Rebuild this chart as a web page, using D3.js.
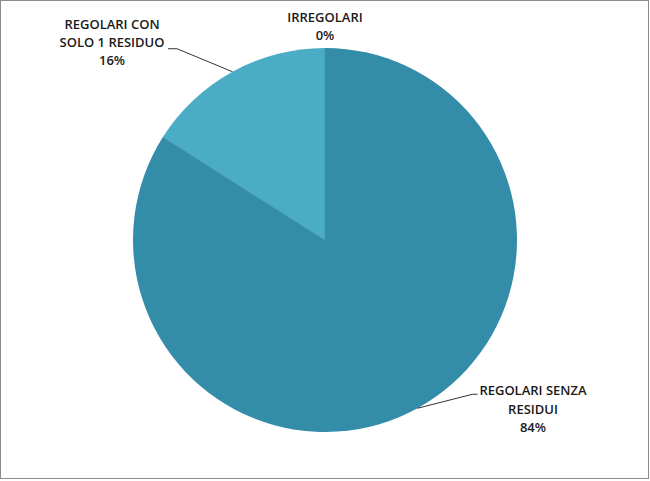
<!DOCTYPE html>
<html><head><meta charset="utf-8">
<script src="https://cdn.jsdelivr.net/npm/d3@7"></script>
<style>body{margin:0;background:#fff}svg{display:block}</style>
</head><body>
<script>
const categories = ["REGOLARI SENZA RESIDUI", "REGOLARI CON SOLO 1 RESIDUO", "IRREGOLARI"];
const values = [84, 16, 0];
const labelLines = [["REGOLARI SENZA", "RESIDUI"], ["REGOLARI CON", "SOLO 1 RESIDUO"], ["IRREGOLARI"]];
const colors = ["#338DA9", "#4BACC6", "#2E7F99"];

const W = 650, H = 481;
const svg = d3.select("body").append("svg").attr("width", W).attr("height", H);
svg.append("rect").attr("x", 0.5).attr("y", 0.5).attr("width", W - 2).attr("height", H - 3)
  .attr("fill", "#fff").attr("stroke", "#8c8c8c").attr("stroke-width", 1);

const cx = 325, cy = 240, R = 192;
const g = svg.append("g").attr("transform", `translate(${cx},${cy})`);
const pie = d3.pie().sort(null).value(d => d);
const arcs = pie(values);
const arc = d3.arc().innerRadius(0).outerRadius(R);

g.selectAll("path").data(arcs).join("path")
  .attr("d", arc).attr("fill", (d, i) => colors[i])
  .attr("stroke", "none");
g.selectAll("line.edge").data(arcs.filter(d => d.value > 0)).join("line")
  .attr("class", "edge").attr("x1", 0).attr("y1", 0)
  .attr("x2", d => R * Math.sin(d.startAngle)).attr("y2", d => -R * Math.cos(d.startAngle))
  .attr("stroke", "#3c8fa8").attr("stroke-width", 1).attr("opacity", 0.6);

const total = d3.sum(values);
const pct = v => Math.round(v / total * 100) + "%";

// label layout relative to the slice mid-angle point on the rim
const labelPos = [
  {dx: 115.5, dy: -13, ex: 55, ey: -14, elbow: 5},
  {dx: -120.5, dy: -43, ex: -55.5, ey: -23, elbow: -9},
  {dx: 0, dy: -26, ex: 0, ey: 0, elbow: 0}
];
const fontFam = "'Open Sans', 'Noto Sans', sans-serif";
arcs.forEach((d, i) => {
  const mid = (d.startAngle + d.endAngle) / 2;
  const px = R * Math.sin(mid), py = -R * Math.cos(mid);
  const lp = labelPos[i];
  const tx = px + lp.dx, ty = py + lp.dy;
  if (d.value > 0) {
    const ex = px + lp.ex, ey = py + lp.ey;
    g.append("polyline")
      .attr("points", `${px},${py} ${ex},${ey} ${ex + lp.elbow},${ey}`)
      .attr("fill", "none").attr("stroke", "#000").attr("stroke-width", 0.8);
  }
  const lines = labelLines[i].concat([pct(values[i])]);
  const t = g.append("text").attr("text-anchor", "middle")
    .attr("font-family", fontFam).attr("font-size", 13).attr("font-weight", 600)
    .attr("fill", "#1a1a1a");
  lines.forEach((s, j) => {
    t.append("tspan").attr("x", tx).attr("y", ty + j * 18.3).text(s);
  });
});
</script>
</body></html>
